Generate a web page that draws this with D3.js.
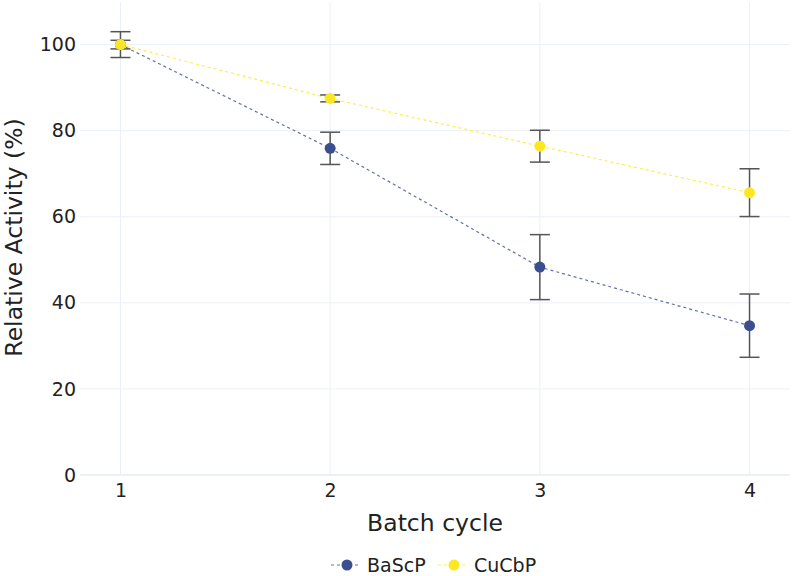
<!DOCTYPE html>
<html>
<head>
<meta charset="utf-8">
<script src="https://cdn.jsdelivr.net/npm/d3@7"></script>
<style>
  body { margin: 0; background: #fff; }
  text { font-family: "DejaVu Sans", Verdana, sans-serif; fill: #222; }
</style>
</head>
<body>
<div id="chart"></div>
<script>
// batch cycles on x
var cycles = [1, 2, 3, 4]
var seriesNames = ['BaScP', 'CuCbP']
var seriesColors = ['#3b4f8f', '#fde725']
var baScP = [100, 75.9, 48.3, 34.7]
var baScPErr = [3, 3.75, 7.55, 7.35]
var cuCbP = [100, 87.5, 76.4, 65.6]
var cuCbPErr = [1, 0.8, 3.7, 5.55]
var yTicks = [0, 20, 40, 60, 80, 100]

const w = 794, h = 576
const margin = {top: 2, right: 4, bottom: 101, left: 80}

var svg = d3.select('#chart')
    .append('svg')
    .attr('width', w)
    .attr('height', h)

var x = d3.scaleLinear()
    .domain([0.807, 4.193])
    .range([margin.left, w - margin.right])

var y = d3.scaleLinear()
    .domain([0, 109.9])
    .range([h - margin.bottom, margin.top])

// grid
var grid = svg.append('g')
grid.selectAll('.hgrid')
    .data(yTicks)
    .enter().append('line')
    .attr('x1', margin.left).attr('x2', w - margin.right)
    .attr('y1', d => y(d)).attr('y2', d => y(d))
    .attr('stroke', '#ebf0f8')
    .attr('stroke-width', d => d === 0 ? 2 : 1)
grid.selectAll('.vgrid')
    .data(cycles)
    .enter().append('line')
    .attr('x1', d => x(d)).attr('x2', d => x(d))
    .attr('y1', margin.top).attr('y2', h - margin.bottom)
    .attr('stroke', '#ebf0f8')

// axes
svg.append('g')
    .attr('transform', 'translate(' + (margin.left - 4) + ',0)')
    .call(d3.axisLeft(y).tickValues(yTicks).tickSize(0).tickPadding(0))
svg.append('g')
    .attr('transform', 'translate(0,' + (h - margin.bottom + 6) + ')')
    .call(d3.axisBottom(x).tickValues(cycles).tickSize(0).tickPadding(2).tickFormat(d3.format('d')))
svg.selectAll('.domain').remove()
svg.selectAll('.tick text').style('font-size', '19px').attr('fill', '#222')

svg.append('text')
    .attr('x', (margin.left + w - margin.right) / 2)
    .attr('y', 531)
    .attr('text-anchor', 'middle')
    .style('font-size', '23.5px')
    .text('Batch cycle')

svg.append('text')
    .attr('transform', 'translate(21.5,' + ((margin.top + h - margin.bottom) / 2 - 1) + ') rotate(-90)')
    .attr('text-anchor', 'middle')
    .style('font-size', '23.5px')
    .text('Relative Activity (%)')

var series = [
    {name: seriesNames[0], color: seriesColors[0], values: baScP, errs: baScPErr},
    {name: seriesNames[1], color: seriesColors[1], values: cuCbP, errs: cuCbPErr}
]

var line = d3.line()
    .x((d, i) => x(cycles[i]))
    .y(d => y(d))

series.forEach(function (s) {
    var g = svg.append('g')

    g.append('path')
        .datum(s.values)
        .attr('d', line)
        .attr('fill', 'none')
        .attr('stroke', s.color)
        .attr('stroke-width', 1.2)
        .attr('stroke-opacity', 0.8)
        .attr('stroke-dasharray', '3,3')

    var bars = g.selectAll('.err')
        .data(s.values)
        .enter().append('g')
        .attr('stroke', '#555')
        .attr('stroke-width', 1.5)
    bars.append('line')
        .attr('x1', (d, i) => x(cycles[i])).attr('x2', (d, i) => x(cycles[i]))
        .attr('y1', (d, i) => y(d + s.errs[i])).attr('y2', (d, i) => y(d - s.errs[i]))
    bars.append('line')
        .attr('x1', (d, i) => x(cycles[i]) - 10).attr('x2', (d, i) => x(cycles[i]) + 10)
        .attr('y1', (d, i) => y(d + s.errs[i])).attr('y2', (d, i) => y(d + s.errs[i]))
    bars.append('line')
        .attr('x1', (d, i) => x(cycles[i]) - 10).attr('x2', (d, i) => x(cycles[i]) + 10)
        .attr('y1', (d, i) => y(d - s.errs[i])).attr('y2', (d, i) => y(d - s.errs[i]))

    g.selectAll('circle')
        .data(s.values)
        .enter().append('circle')
        .attr('cx', (d, i) => x(cycles[i]))
        .attr('cy', d => y(d))
        .attr('r', 5.5)
        .attr('fill', s.color)
})

// legend
var legend = svg.append('g').attr('transform', 'translate(331,565)')
var item = legend.selectAll('g')
    .data(series)
    .enter().append('g')
    .attr('transform', (d, i) => 'translate(' + (i * 107) + ',0)')
item.append('line')
    .attr('x1', 0).attr('x2', 30)
    .attr('stroke', d => d.color)
    .attr('stroke-width', 1.2)
    .attr('stroke-opacity', 0.8)
    .attr('stroke-dasharray', '3,3')
item.append('circle')
    .attr('cx', 16).attr('r', 5.5)
    .attr('fill', d => d.color)
item.append('text')
    .attr('x', 36).attr('y', 7)
    .style('font-size', '19px')
    .text(d => d.name)
</script>
</body>
</html>
